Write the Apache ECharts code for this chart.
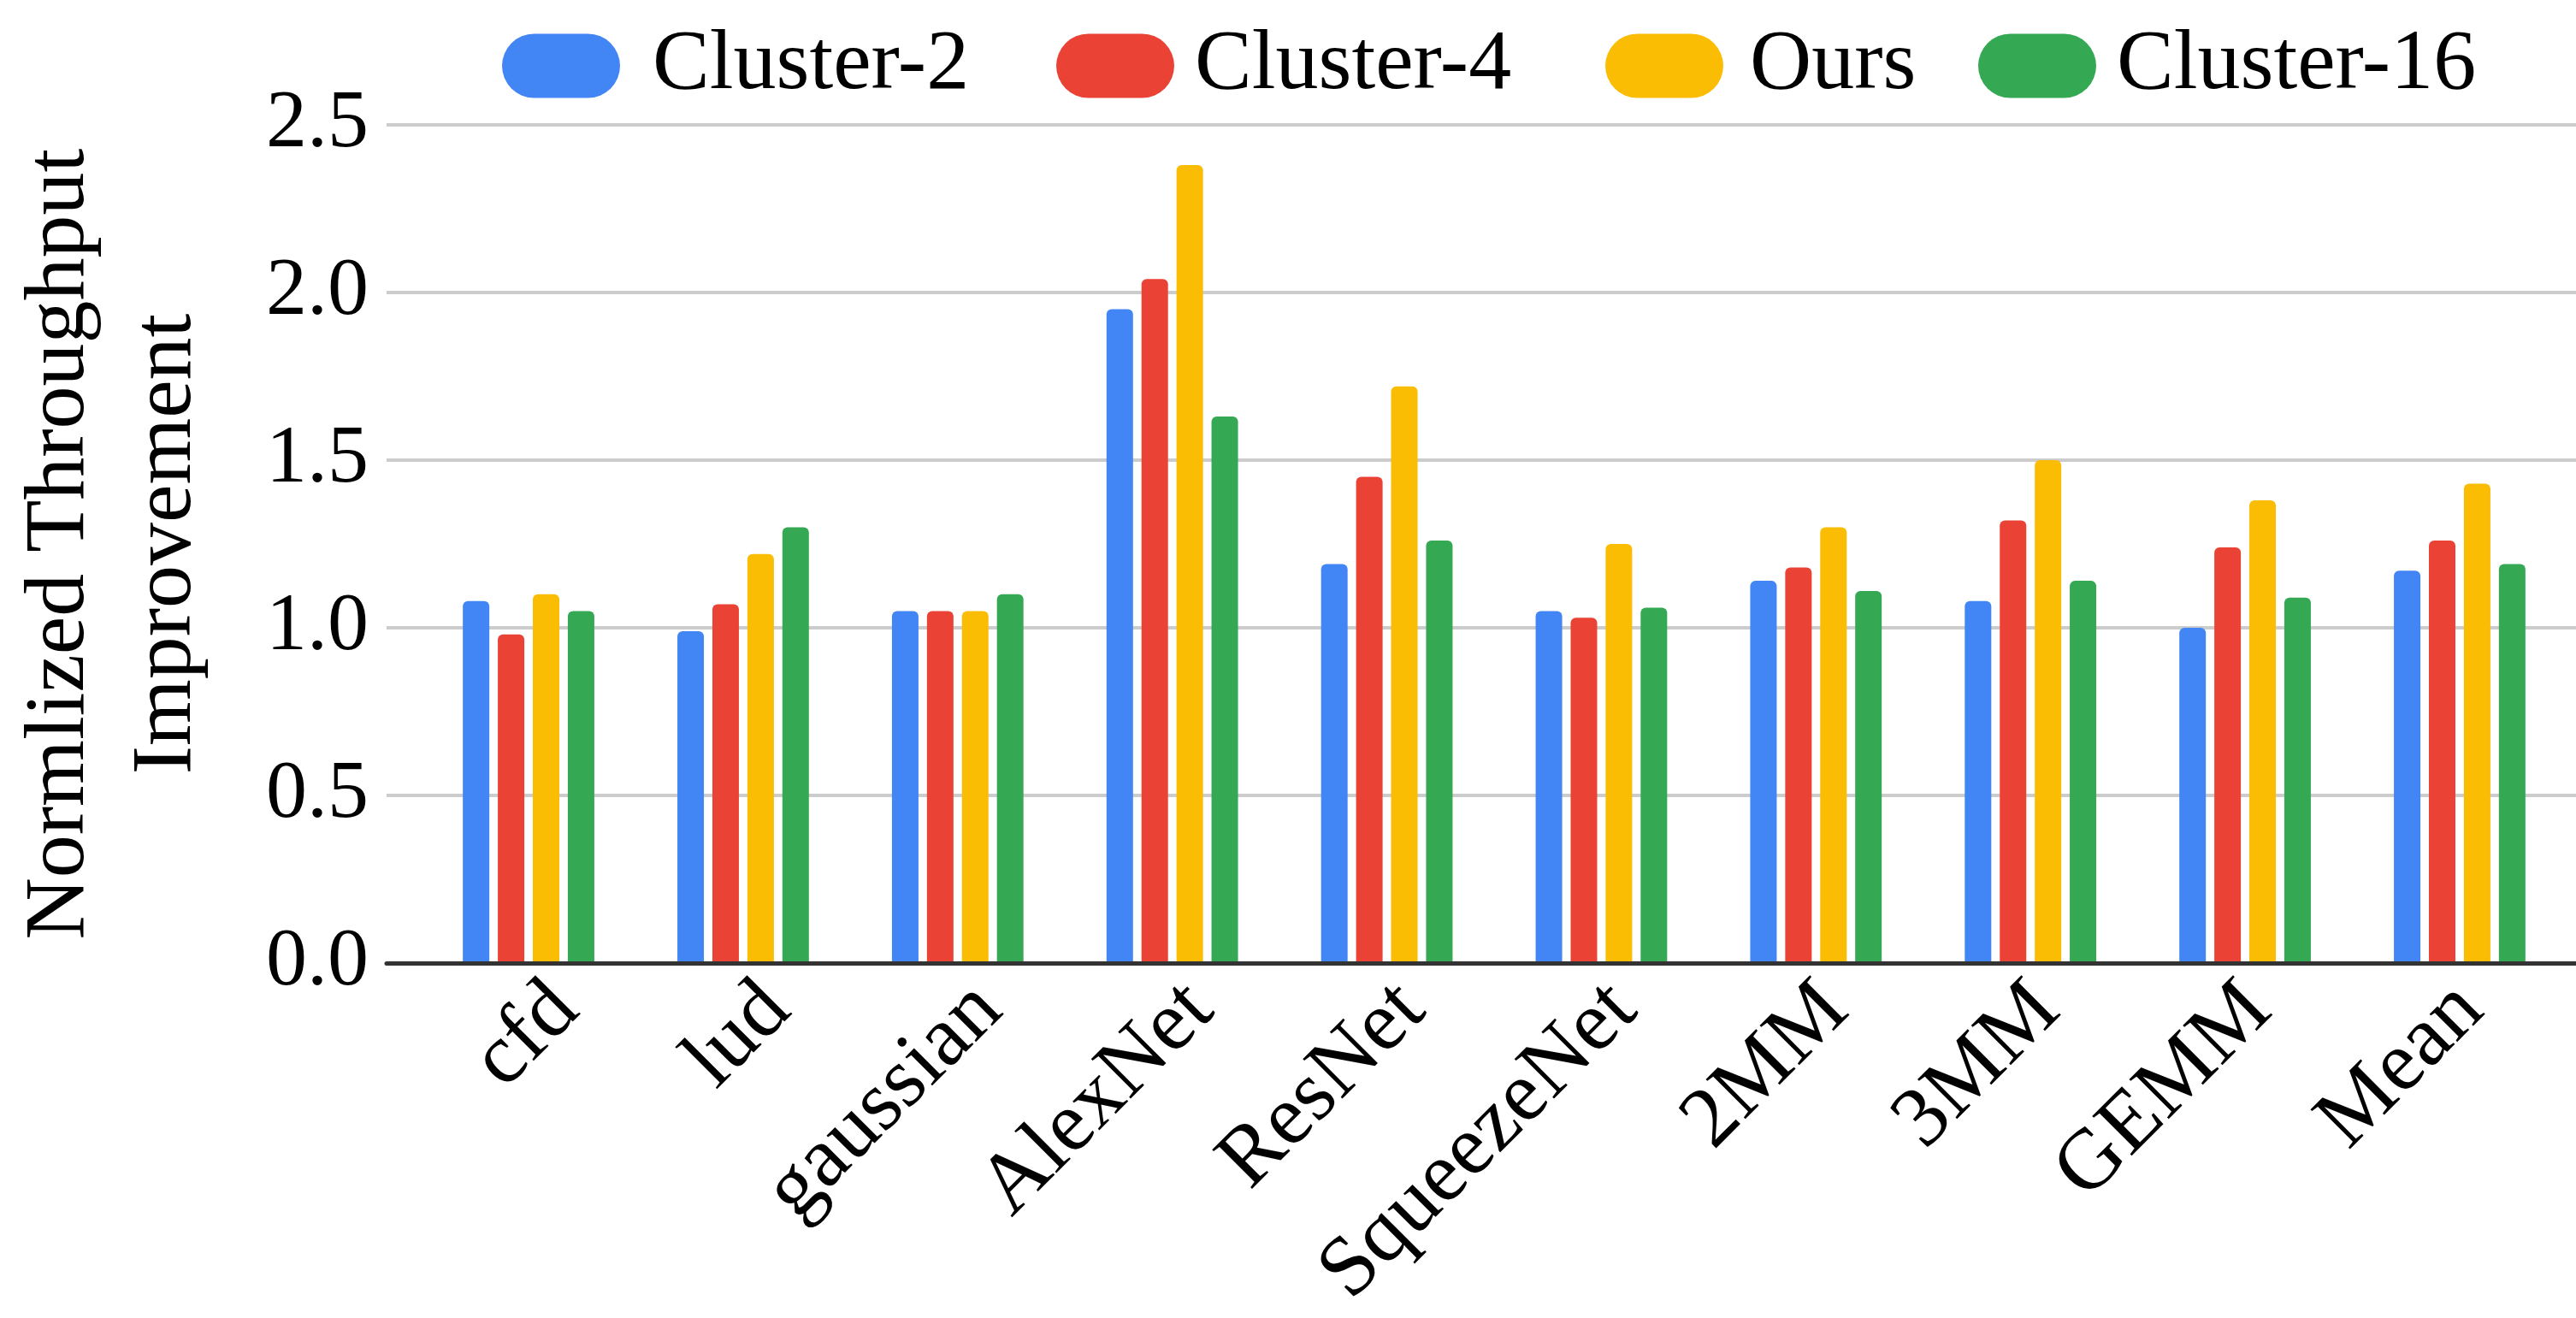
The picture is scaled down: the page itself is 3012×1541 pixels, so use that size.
<!DOCTYPE html>
<html>
<head>
<meta charset="utf-8">
<script src="https://cdn.jsdelivr.net/npm/echarts@6/dist/echarts.min.js"></script>
<style>
  html, body { margin: 0; padding: 0; background: #ffffff; }
  #chart { width: 3012px; height: 1541px; }
</style>
</head>
<body>
<div id="chart"></div>
<script>
// Benchmarks on the category axis
const categories = ['cfd', 'lud', 'gaussian', 'AlexNet', 'ResNet', 'SqueezeNet', '2MM', '3MM', 'GEMM', 'Mean'];

// Normalized throughput improvement per configuration
const cluster2  = [1.08, 0.99, 1.05, 1.95, 1.19, 1.05, 1.14, 1.08, 1.00, 1.17];
const cluster4  = [0.98, 1.07, 1.05, 2.04, 1.45, 1.03, 1.18, 1.32, 1.24, 1.26];
const ours      = [1.10, 1.22, 1.05, 2.38, 1.72, 1.25, 1.30, 1.50, 1.38, 1.43];
const cluster16 = [1.05, 1.30, 1.10, 1.63, 1.26, 1.06, 1.11, 1.14, 1.09, 1.19];

const seriesNames = ['Cluster-2', 'Cluster-4', 'Ours', 'Cluster-16'];
const seriesColors = ['#4285F4', '#EA4335', '#FBBC04', '#34A853'];
const seriesData = [cluster2, cluster4, ours, cluster16];

// Y-axis range and tick step
const yMin = 0, yMax = 2.5, yStep = 0.5;

const FONT = '"Liberation Serif", "Times New Roman", serif';
const pill = 'path://M37.5,0 L100.5,0 A37.5,37.5 0 0 1 100.5,75 L37.5,75 A37.5,37.5 0 0 1 37.5,0 Z';

const chart = echarts.init(document.getElementById('chart'), null, { renderer: 'canvas' });

// one legend block per series so each entry sits at its own spot
const legendLefts = [582, 1230, 1872, 2308];
const legendPads = [33, 19, 26, 19];
const legends = seriesNames.map((name, i) => ({
  data: [name],
  left: legendLefts[i],
  top: 22,
  orient: 'horizontal',
  icon: pill,
  itemWidth: 138,
  itemHeight: 75,
  selectedMode: false,
  textStyle: {
    fontFamily: FONT,
    fontSize: 100,
    color: '#000000',
    padding: [0, 0, 0, legendPads[i]]
  }
}));

// plot band geometry
const TOP = 146, BOTTOM = 415;
const BAND_LEFT = 492.6, BAND_WIDTH = 2508.8;
const LABEL_SHIFT = 45;

const option = {
  backgroundColor: '#ffffff',
  animation: false,
  legend: legends,
  grid: [
    // frame with gridlines, y labels and the baseline
    { left: 448, right: 0, top: TOP, bottom: BOTTOM, containLabel: false },
    // band area holding the bar groups
    { left: BAND_LEFT, width: BAND_WIDTH, top: TOP, bottom: BOTTOM, containLabel: false },
    // slanted category names, set slightly right of the groups
    { left: BAND_LEFT + LABEL_SHIFT, width: BAND_WIDTH, top: TOP, bottom: BOTTOM, containLabel: false }
  ],
  xAxis: [
    {
      gridIndex: 0,
      type: 'category',
      data: [''],
      z: 5,
      axisLine: { show: true, lineStyle: { color: '#333333', width: 5 } },
      axisTick: { show: false },
      axisLabel: { show: false },
      splitLine: { show: false }
    },
    {
      gridIndex: 1,
      type: 'category',
      data: categories,
      axisLine: { show: false },
      axisTick: { show: false },
      axisLabel: { show: false }
    },
    {
      gridIndex: 2,
      type: 'category',
      data: categories,
      axisLine: { show: false },
      axisTick: { show: false },
      axisLabel: {
        rotate: 45,
        margin: 60,
        fontFamily: FONT,
        fontSize: 100,
        color: '#000000',
        interval: 0
      }
    }
  ],
  yAxis: [
    {
      gridIndex: 0,
      type: 'value',
      min: yMin,
      max: yMax,
      interval: yStep,
      name: 'Normlized Throughput\nImprovement',
      nameLocation: 'middle',
      nameRotate: 90,
      nameGap: 194,
      nameTextStyle: {
        fontFamily: FONT,
        fontSize: 100,
        lineHeight: 125,
        color: '#000000'
      },
      axisLine: { show: false },
      axisTick: { show: false },
      axisLabel: {
        margin: 21,
        fontFamily: FONT,
        fontSize: 96,
        color: '#000000',
        formatter: v => v.toFixed(1)
      },
      splitLine: { show: true, lineStyle: { color: '#cccccc', width: 4 } }
    },
    {
      gridIndex: 1,
      type: 'value',
      min: yMin,
      max: yMax,
      interval: yStep,
      show: false,
      splitLine: { show: false }
    },
    {
      gridIndex: 2,
      type: 'value',
      min: yMin,
      max: yMax,
      interval: yStep,
      show: false,
      splitLine: { show: false }
    }
  ],
  series: seriesNames.map((name, i) => ({
    name: name,
    type: 'bar',
    xAxisIndex: 1,
    yAxisIndex: 1,
    data: seriesData[i],
    barWidth: 31,
    barGap: '32%',
    itemStyle: { color: seriesColors[i], borderRadius: [6, 6, 0, 0] }
  }))
};

chart.setOption(option);
</script>
</body>
</html>
